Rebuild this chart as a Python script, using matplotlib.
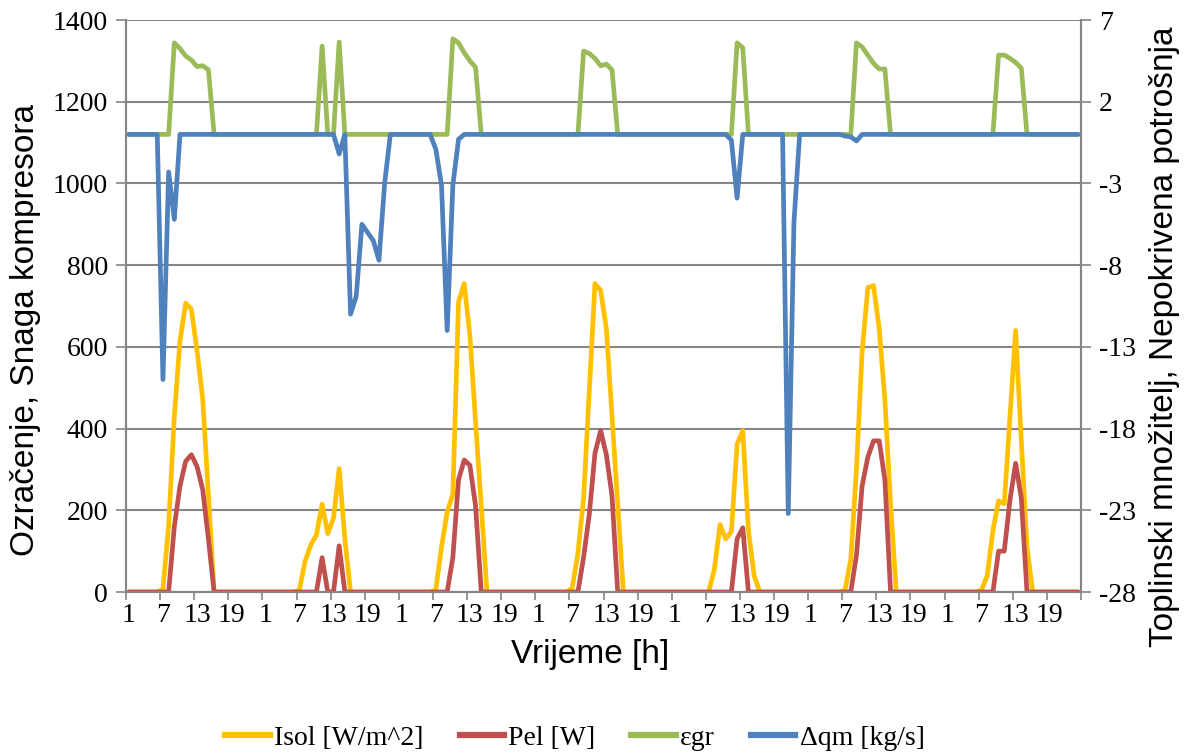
import numpy as np
import matplotlib
matplotlib.use('agg')
from matplotlib import pyplot as plt
from matplotlib.lines import Line2D

# hourly values, one row per day (hours 1..24)
isol = [
    0, 0, 0, 0, 0, 0, 7, 162, 430, 615, 707, 692, 590, 472, 236, 0, 0, 0, 0, 0, 0, 0, 0, 0,
    0, 0, 0, 0, 0, 0, 5, 75, 115, 140, 215, 143, 181, 302, 130, 0, 0, 0, 0, 0, 0, 0, 0, 0,
    0, 0, 0, 0, 0, 0, 5, 110, 195, 240, 710, 755, 627, 415, 210, 0, 0, 0, 0, 0, 0, 0, 0, 0,
    0, 0, 0, 0, 0, 0, 10, 95, 230, 490, 755, 738, 645, 430, 215, 0, 0, 0, 0, 0, 0, 0, 0, 0,
    0, 0, 0, 0, 0, 0, 0, 55, 165, 130, 148, 362, 395, 150, 40, 0, 0, 0, 0, 0, 0, 0, 0, 0,
    0, 0, 0, 0, 0, 0, 5, 80, 300, 590, 745, 750, 645, 470, 215, 0, 0, 0, 0, 0, 0, 0, 0, 0,
    0, 0, 0, 0, 0, 0, 5, 40, 150, 223, 216, 428, 640, 370, 110, 0, 0, 0, 0, 0, 0, 0, 0, 0,
]
pel = [
    0, 0, 0, 0, 0, 0, 0, 0, 160, 260, 320, 336, 307, 250, 130, 0, 0, 0, 0, 0, 0, 0, 0, 0,
    0, 0, 0, 0, 0, 0, 0, 0, 0, 0, 84, 0, 0, 113, 0, 0, 0, 0, 0, 0, 0, 0, 0, 0,
    0, 0, 0, 0, 0, 0, 0, 0, 0, 85, 275, 323, 310, 210, 0, 0, 0, 0, 0, 0, 0, 0, 0, 0,
    0, 0, 0, 0, 0, 0, 0, 0, 85, 190, 340, 395, 336, 235, 0, 0, 0, 0, 0, 0, 0, 0, 0, 0,
    0, 0, 0, 0, 0, 0, 0, 0, 0, 0, 0, 130, 157, 0, 0, 0, 0, 0, 0, 0, 0, 0, 0, 0,
    0, 0, 0, 0, 0, 0, 0, 0, 90, 260, 330, 370, 370, 275, 0, 0, 0, 0, 0, 0, 0, 0, 0, 0,
    0, 0, 0, 0, 0, 0, 0, 0, 0, 100, 100, 225, 315, 230, 0, 0, 0, 0, 0, 0, 0, 0, 0, 0,
]
eps_gr = [
    0, 0, 0, 0, 0, 0, 0, 0, 5.6, 5.25, 4.8, 4.55, 4.15, 4.2, 3.95, 0, 0, 0, 0, 0, 0, 0, 0, 0,
    0, 0, 0, 0, 0, 0, 0, 0, 0, 0, 5.4, 0, 0, 5.65, 0, 0, 0, 0, 0, 0, 0, 0, 0, 0,
    0, 0, 0, 0, 0, 0, 0, 0, 0, 5.85, 5.6, 5.0, 4.5, 4.1, 0, 0, 0, 0, 0, 0, 0, 0, 0, 0,
    0, 0, 0, 0, 0, 0, 0, 0, 5.1, 4.95, 4.65, 4.2, 4.3, 3.95, 0, 0, 0, 0, 0, 0, 0, 0, 0, 0,
    0, 0, 0, 0, 0, 0, 0, 0, 0, 0, 0, 5.6, 5.3, 0, 0, 0, 0, 0, 0, 0, 0, 0, 0, 0,
    0, 0, 0, 0, 0, 0, 0, 0, 5.6, 5.35, 4.85, 4.35, 4.0, 4.0, 0, 0, 0, 0, 0, 0, 0, 0, 0, 0,
    0, 0, 0, 0, 0, 0, 0, 0, 0, 4.85, 4.85, 4.65, 4.4, 4.05, 0, 0, 0, 0, 0, 0, 0, 0, 0, 0,
]
dqm = [
    0, 0, 0, 0, 0, 0, -15.0, -2.3, -5.2, 0, 0, 0, 0, 0, 0, 0, 0, 0, 0, 0, 0, 0, 0, 0,
    0, 0, 0, 0, 0, 0, 0, 0, 0, 0, 0, 0, 0, -1.2, 0, -11.0, -9.9, -5.5, -6.0, -6.5, -7.7, -3.0, 0, 0,
    0, 0, 0, 0, 0, 0, -0.9, -3.1, -12.0, -3.1, -0.3, 0, 0, 0, 0, 0, 0, 0, 0, 0, 0, 0, 0, 0,
    0, 0, 0, 0, 0, 0, 0, 0, 0, 0, 0, 0, 0, 0, 0, 0, 0, 0, 0, 0, 0, 0, 0, 0,
    0, 0, 0, 0, 0, 0, 0, 0, 0, 0, -0.35, -3.9, 0, 0, 0, 0, 0, 0, 0, 0, -23.2, -5.4, 0, 0,
    0, 0, 0, 0, 0, 0, -0.1, -0.15, -0.4, 0, 0, 0, 0, 0, 0, 0, 0, 0, 0, 0, 0, 0, 0, 0,
    0, 0, 0, 0, 0, 0, 0, 0, 0, 0, 0, 0, 0, 0, 0, 0, 0, 0, 0, 0, 0, 0, 0, 0,
]
hour_labels = ['1', '7', '13', '19']
left_ticks = [0, 200, 400, 600, 800, 1000, 1200, 1400]
right_ticks = [-28, -23, -18, -13, -8, -3, 2, 7]

C_ISOL = '#FFC000'
C_PEL = '#C0504D'
C_EPS = '#9BBB59'
C_DQM = '#4F81BD'
GRID = '#868686'
SERIF = 'Liberation Serif'
SANS = 'Liberation Sans'
LW = 3.4

hours = np.arange(1, len(isol) + 1)

fig = plt.figure(figsize=(11.93, 7.53), dpi=100)
ax = fig.add_axes([126 / 1193, 1 - 592 / 753, (1081 - 126) / 1193, (592 - 20) / 753])
ax2 = ax.twinx()

line_kw = dict(lw=LW, solid_capstyle='round', solid_joinstyle='round')
ax.plot(hours, isol, color=C_ISOL, **line_kw)
ax.plot(hours, pel, color=C_PEL, **line_kw)
ax2.plot(hours, eps_gr, color=C_EPS, **line_kw)
ax2.plot(hours, dqm, color=C_DQM, **line_kw)

ax.set_xlim(0.5, len(isol) + 0.5)
ax.set_ylim(0, 1400)
ax2.set_ylim(-28, 7)

ax.set_yticks(left_ticks)
ax.set_yticklabels([str(v) for v in left_ticks], fontfamily=SERIF, fontsize=20)
ax2.set_yticks(right_ticks)
ax2.set_yticklabels([str(v) for v in right_ticks], fontfamily=SERIF, fontsize=20)

# labels sit on the categories, tick marks between them (every 6 h)
label_pos = np.arange(1, len(isol) + 1, 6)
ax.set_xticks(label_pos)
ax.set_xticklabels([hour_labels[k % 4] for k in range(len(label_pos))],
                   fontfamily=SERIF, fontsize=20)
ax.set_xticks(np.arange(0.5, len(isol) + 1, 6), minor=True)
ax.tick_params(axis='x', which='major', length=0, pad=8)
ax.tick_params(axis='x', which='minor', length=6, width=1.2, color=GRID, direction='out')
ax.tick_params(axis='y', length=7, width=1.2, color=GRID, pad=6)
ax2.tick_params(axis='y', length=7, width=1.2, color=GRID, pad=6)

ax.grid(axis='y', color=GRID, lw=1.5)
ax.set_axisbelow(True)
for a in (ax, ax2):
    a.spines['top'].set_visible(False)
    for s in ('left', 'right', 'bottom'):
        a.spines[s].set_color(GRID)
        a.spines[s].set_linewidth(1.5)

fig.text(26 / 1193, 1 - 330 / 753, 'Ozračenje, Snaga kompresora', rotation=90,
         ha='center', va='center', fontfamily=SANS, fontsize=24)
fig.text(1165 / 1193, 1 - 337 / 753, 'Toplinski množitelj, Nepokrivena potrošnja',
         rotation=90, ha='center', va='center', fontfamily=SANS, fontsize=24)
fig.text(590 / 1193, 1 - 655 / 753, 'Vrijeme [h]', ha='center', va='center',
         fontfamily=SANS, fontsize=24)

handles = [Line2D([], [], color=c, lw=4.5) for c in (C_ISOL, C_PEL, C_EPS, C_DQM)]
names = ['Isol [W/m^2]', 'Pel [W]', 'εgr', 'Δqm [kg/s]']
fig.legend(handles, names, loc='center', bbox_to_anchor=(575 / 1193, 1 - 738 / 753),
           ncol=4, frameon=False, prop={'family': SERIF, 'size': 20},
           handlelength=1.6, handletextpad=0.15, columnspacing=1.3)

fig.savefig('out.png', dpi=100)
